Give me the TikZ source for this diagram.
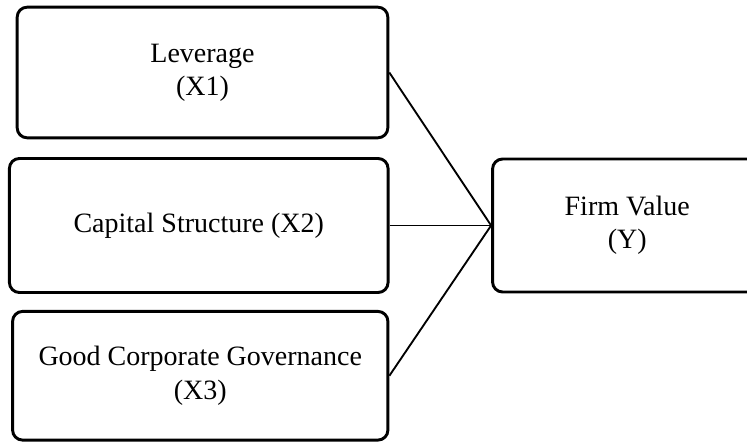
\documentclass[tikz,border=0pt]{standalone}
\usepackage{fontspec}
\setmainfont{Liberation Serif}
\usepackage{tikz}
\usetikzlibrary{positioning}

\begin{document}
\begin{tikzpicture}[
    % GLOBAL CFG
    x=0.75pt, y=-0.75pt,
    font=\fontsize{21}{25}\selectfont,
    % Styles
    varbox/.style={% For the variable boxes
        rectangle,
        rounded corners=7.5pt,
        draw,
        line width=2.2pt,
        align=center,
        inner sep=0pt,
        },
    link/.style={% Lines into the dependent variable
        line width=1.4pt,
        },
    ]
    \useasboundingbox (0,0) rectangle (747,442);

    % Draw the independent variables
    \node [varbox, minimum width=278pt, minimum height=98pt] (lev) at (202.5,72.5) {Leverage\\(X1)};
    \node [varbox, minimum width=284pt, minimum height=100.5pt] (cap) at (198.75,225.5) {Capital Structure (X2)};
    \node [varbox, minimum width=281.5pt, minimum height=96.5pt] (gcg) at (200.25,375.75) {Good Corporate Governance\\(X3)};

    % Draw the dependent variable
    \node [varbox, minimum width=202pt, minimum height=99.75pt] (fv) at (627.25,225.5) {Firm Value\\(Y)};

    % Connect all
    \draw [link] (lev.east) -- (fv.west);
    \draw [link] (cap.east) -- (fv.west);
    \draw [link] (gcg.east) -- (fv.west);

\end{tikzpicture}
\end{document}
